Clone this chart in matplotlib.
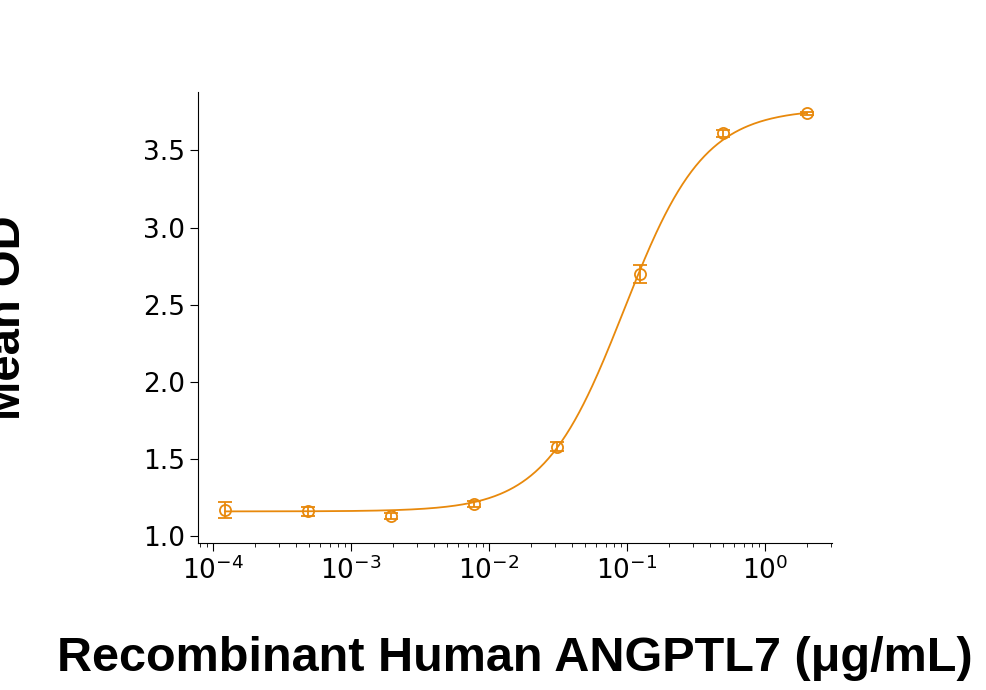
import numpy as np
import matplotlib
matplotlib.use("Agg")
import matplotlib.pyplot as plt
from matplotlib import font_manager

conc = [1.22e-4, 4.88e-4, 1.95e-3, 7.8e-3, 0.03125, 0.125, 0.5, 2.0]
od = [1.17, 1.16, 1.13, 1.21, 1.58, 2.70, 3.61, 3.74]
err = [0.05, 0.03, 0.02, 0.02, 0.03, 0.06, 0.02, 0.01]
y_ticks = [1.0, 1.5, 2.0, 2.5, 3.0, 3.5]
fit_bottom, fit_top, fit_ec50, fit_hill = 1.16, 3.77, 0.095, 1.5

names = {f.name for f in font_manager.fontManager.ttflist}
tick_font = "Liberation Sans Narrow" if "Liberation Sans Narrow" in names else "DejaVu Sans"
col = "#E8890C"

fig = plt.figure(figsize=(9.87, 6.9), dpi=100)
ax = fig.add_axes([0.2006, 0.213, 0.6424, 0.654])
xs = np.logspace(np.log10(1.22e-4), np.log10(2.0), 400)
ys = fit_bottom + (fit_top - fit_bottom) / (1 + (fit_ec50 / xs) ** fit_hill)
ax.plot(xs, ys, color=col, lw=1.3)
ax.errorbar(conc, od, yerr=err, fmt="o", mfc="none", mec=col, ecolor=col,
            ms=8, mew=1.3, capsize=5, elinewidth=1.3)
ax.set_xscale("log")
ax.set_xlim(10 ** -4.109, 10 ** 0.486)
ax.set_ylim(0.955, 3.88)
ax.set_yticks(y_ticks)
ax.set_yticklabels([f"{v:.1f}" for v in y_ticks])
for s in ["top", "right"]:
    ax.spines[s].set_visible(False)
ax.tick_params(direction="out", labelsize=19, length=6)
ax.tick_params(which="minor", length=3)
for lab in ax.get_xticklabels() + ax.get_yticklabels():
    lab.set_fontfamily(tick_font)
ax.set_ylabel("Mean OD", fontsize=34, fontweight="bold", family="Liberation Sans")
ax.yaxis.set_label_coords(-0.265, 0.5)
ax.set_xlabel("Recombinant Human ANGPTL7 (\u03bcg/mL)", fontsize=35, fontweight="bold",
              family="Liberation Sans")
ax.xaxis.set_label_coords(0.5, -0.205)
fig.savefig("out.png", dpi=100)
